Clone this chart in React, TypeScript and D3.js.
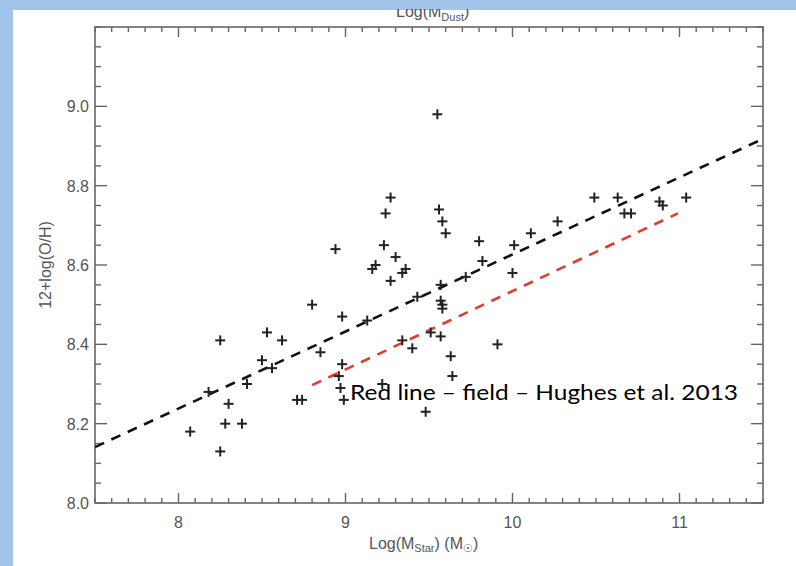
import React from "react";
import * as d3 from "d3";

const xVals = [8.07, 8.18, 8.25, 8.25, 8.30, 8.28, 8.38, 8.41, 8.50, 8.53, 8.56, 8.62, 8.71, 8.74, 8.80, 8.85, 8.94, 8.98, 8.98, 8.96, 8.97, 8.99, 9.13, 9.16, 9.18, 9.22, 9.23, 9.24, 9.27, 9.27, 9.30, 9.34, 9.36, 9.34, 9.40, 9.43, 9.48, 9.51, 9.55, 9.56, 9.58, 9.60, 9.57, 9.57, 9.58, 9.58, 9.57, 9.63, 9.64, 9.72, 9.80, 9.82, 9.91, 10.00, 10.01, 10.11, 10.27, 10.49, 10.63, 10.67, 10.71, 10.88, 10.90, 11.04];
const yVals = [8.18, 8.28, 8.41, 8.13, 8.25, 8.20, 8.20, 8.30, 8.36, 8.43, 8.34, 8.41, 8.26, 8.26, 8.50, 8.38, 8.64, 8.47, 8.35, 8.32, 8.29, 8.26, 8.46, 8.59, 8.60, 8.30, 8.65, 8.73, 8.77, 8.56, 8.62, 8.58, 8.59, 8.41, 8.39, 8.52, 8.23, 8.43, 8.98, 8.74, 8.71, 8.68, 8.55, 8.51, 8.50, 8.49, 8.42, 8.37, 8.32, 8.57, 8.66, 8.61, 8.40, 8.58, 8.65, 8.68, 8.71, 8.77, 8.77, 8.73, 8.73, 8.76, 8.75, 8.77];

const allFitX = [7.5, 11.5];
const allFitY = [8.141, 8.918];
const fieldFitX = [8.80, 10.99];
const fieldFitY = [8.297, 8.73];

const xTicks = [8, 9, 10, 11];
const yTicks = [8.0, 8.2, 8.4, 8.6, 8.8, 9.0];
const yTickLabels = ["8.0", "8.2", "8.4", "8.6", "8.8", "9.0"];

const W = 796, H = 566;
const L = 95, R = 763, T = 27, B = 503;

export default function App() {
  const x = d3.scaleLinear().domain([7.5, 11.5]).range([L, R]);
  const y = d3.scaleLinear().domain([8.0, 9.2]).range([B, T]);
  const xMinor = d3.range(75, 116).map((v) => v / 10);
  const yMinor = d3.range(160, 185).map((v) => v / 20);
  const line = d3.line<[number, number]>().x((d) => x(d[0])).y((d) => y(d[1]));
  const axisColor = "#666";
  const labelColor = "#555";
  const font = "'Liberation Sans', Arial, sans-serif";

  return (
    <svg width={W} height={H} style={{ position: "absolute", left: 0, top: 0 }}>
      <defs>
        <clipPath id="plot">
          <rect x={L} y={T} width={R - L} height={B - T} />
        </clipPath>
      </defs>
      <rect x={0} y={0} width={W} height={H} fill="#a3c4ea" />
      <rect x={13} y={10} width={W - 13} height={H - 10} fill="#ffffff" />

      {/* top axis title (partially cut) */}
      <text x={396} y={17} fontFamily={font} fontSize={16} fill={labelColor}>
        Log(M<tspan fontSize={11} dy={4}>Dust</tspan><tspan dy={-4}>)</tspan>
      </text>
      <rect x={13} y={0} width={780} height={9} fill="#a3c4ea" />

      {/* axes box */}
      <rect x={L} y={T} width={R - L} height={B - T} fill="none" stroke={axisColor} strokeWidth={1.6} />

      {xMinor.map((v, i) => {
        const major = xTicks.some((t) => Math.abs(t - v) < 1e-6);
        const len = major ? 10 : 5;
        return (
          <g key={"xm" + i} stroke={axisColor} strokeWidth={1.4}>
            <line x1={x(v)} x2={x(v)} y1={B} y2={B - len} />
            <line x1={x(v)} x2={x(v)} y1={T} y2={T + len} />
          </g>
        );
      })}
      {yMinor.map((v, i) => {
        const major = yTicks.some((t) => Math.abs(t - v) < 1e-6);
        const len = major ? 12 : 6;
        return (
          <g key={"ym" + i} stroke={axisColor} strokeWidth={1.4}>
            <line x1={L} x2={L + len} y1={y(v)} y2={y(v)} />
            <line x1={R} x2={R - len} y1={y(v)} y2={y(v)} />
          </g>
        );
      })}

      {xTicks.map((t) => (
        <text key={"xt" + t} x={x(t)} y={528} textAnchor="middle" fontFamily={font} fontSize={16} fill={labelColor}>
          {t}
        </text>
      ))}
      {yTicks.map((t, i) => (
        <text key={"yt" + t} x={89} y={y(t) + 6} textAnchor="end" fontFamily={font} fontSize={16} fill={labelColor}>
          {yTickLabels[i]}
        </text>
      ))}

      {/* axis titles */}
      <text x={369} y={549} fontFamily={font} fontSize={16} fill={labelColor}>
        Log(M<tspan fontSize={11} dy={3}>Star</tspan><tspan dy={-3}>)  (M</tspan><tspan fontSize={11} dy={3}>☉</tspan><tspan dy={-3}>)</tspan>
      </text>
      <text transform={`translate(51,${(T + B) / 2}) rotate(-90)`} textAnchor="middle" fontFamily={font} fontSize={16} fill={labelColor}>
        12+log(O/H)
      </text>

      {/* fit lines */}
      <g clipPath="url(#plot)">
        <path d={line(allFitX.map((v, i) => [v, allFitY[i]]) as [number, number][]) || ""} fill="none" stroke="#111" strokeWidth={2.6} strokeDasharray="10,8" />
        <path d={line(fieldFitX.map((v, i) => [v, fieldFitY[i]]) as [number, number][]) || ""} fill="none" stroke="#e03c31" strokeWidth={2.6} strokeDasharray="10,8" />
      </g>

      {/* points */}
      {xVals.map((v, i) => {
        const cx = x(v), cy = y(yVals[i]);
        return (
          <g key={"p" + i} stroke="#222" strokeWidth={2}>
            <line x1={cx - 5} x2={cx + 5} y1={cy} y2={cy} />
            <line x1={cx} x2={cx} y1={cy - 5} y2={cy + 5} />
          </g>
        );
      })}

      {/* annotation */}
      <text x={350} y={400} fontFamily="Lato, 'Open Sans', sans-serif" fontSize={22} fill="#000" textLength={388} lengthAdjust="spacingAndGlyphs">
        Red line – field – Hughes et al. 2013
      </text>
    </svg>
  );
}
